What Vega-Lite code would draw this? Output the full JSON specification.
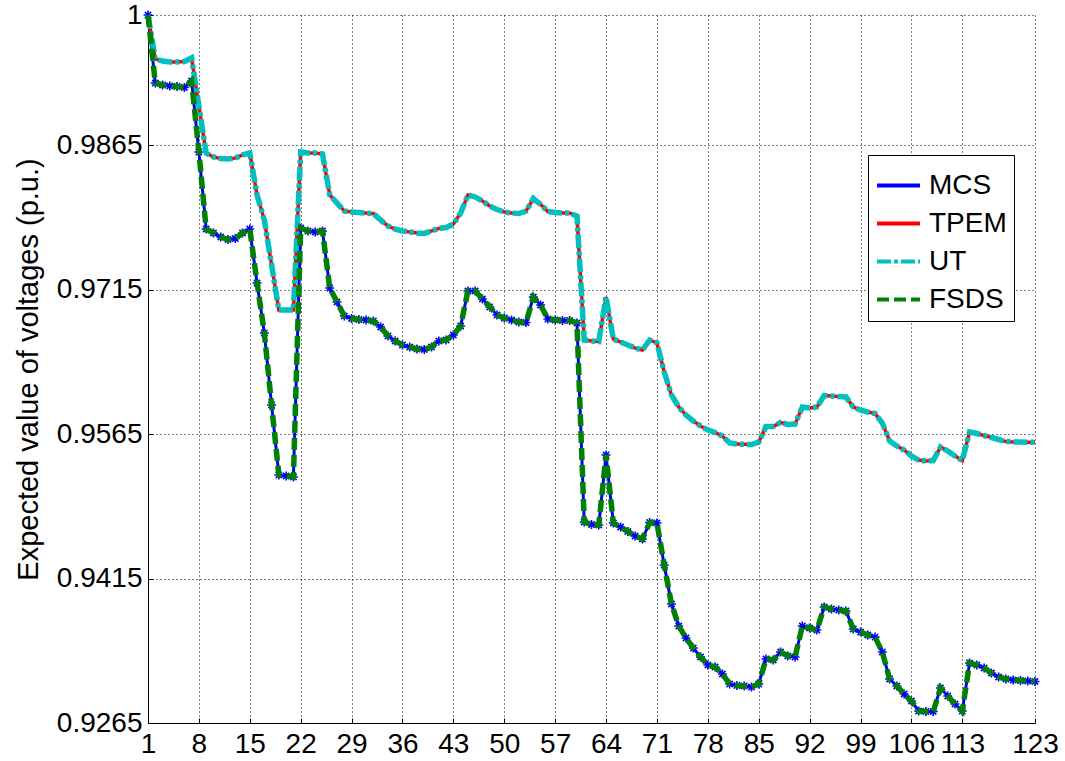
{
 "$schema": "https://vega.github.io/schema/vega-lite/v6.json",
 "width": 887,
 "height": 708,
 "autosize": {"type": "none"},
 "padding": {"left": 148, "top": 15, "right": 30, "bottom": 38},
 "background": "white",
 "config": {
  "view": {"stroke": null},
  "font": "Liberation Sans",
  "axis": {
   "domainColor": "#000000", "domainWidth": 1,
   "gridColor": "#000000", "gridDash": [1, 3], "gridOpacity": 1, "gridWidth": 1,
   "tickColor": "#000000", "tickSize": -5, "tickWidth": 1,
   "labelFont": "Liberation Sans", "labelFontSize": 28, "labelColor": "#000000",
   "titleFont": "Liberation Sans", "titleFontSize": 29, "titleFontWeight": "normal", "titleColor": "#000000"
  },
  "legend": {
   "orient": "none", "legendX": 720, "legendY": 140,
   "symbolType": "stroke", "symbolSize": 1849, "symbolStrokeWidth": 4,
   "labelFont": "Liberation Sans", "labelFontSize": 28, "labelColor": "#000000", "labelOffset": 7,
   "strokeColor": "#000000", "fillColor": "#ffffff", "padding": 7, "rowPadding": -4
  }
 },
 "data": {"values": [
  {"bus":1,"mcs":1.0,"tpem":1.0,"ut":1.0,"fsds":1.0},
  {"bus":2,"mcs":0.99294,"tpem":0.99543,"ut":0.99543,"fsds":0.99294},
  {"bus":3,"mcs":0.99273,"tpem":0.99522,"ut":0.99522,"fsds":0.99273},
  {"bus":4,"mcs":0.99263,"tpem":0.99512,"ut":0.99512,"fsds":0.99263},
  {"bus":5,"mcs":0.99258,"tpem":0.99512,"ut":0.99512,"fsds":0.99258},
  {"bus":6,"mcs":0.99247,"tpem":0.99517,"ut":0.99517,"fsds":0.99247},
  {"bus":7,"mcs":0.99315,"tpem":0.99554,"ut":0.99554,"fsds":0.99315},
  {"bus":8,"mcs":0.98578,"tpem":0.99055,"ut":0.99055,"fsds":0.98578},
  {"bus":9,"mcs":0.97778,"tpem":0.98567,"ut":0.98567,"fsds":0.97778},
  {"bus":10,"mcs":0.97737,"tpem":0.98526,"ut":0.98526,"fsds":0.97737},
  {"bus":11,"mcs":0.97695,"tpem":0.9851,"ut":0.9851,"fsds":0.97695},
  {"bus":12,"mcs":0.97669,"tpem":0.98505,"ut":0.98505,"fsds":0.97669},
  {"bus":13,"mcs":0.9768,"tpem":0.98515,"ut":0.98515,"fsds":0.9768},
  {"bus":14,"mcs":0.97737,"tpem":0.98547,"ut":0.98547,"fsds":0.97737},
  {"bus":15,"mcs":0.97778,"tpem":0.98567,"ut":0.98567,"fsds":0.97778},
  {"bus":16,"mcs":0.97218,"tpem":0.98131,"ut":0.98131,"fsds":0.97218},
  {"bus":17,"mcs":0.96699,"tpem":0.97872,"ut":0.97872,"fsds":0.96699},
  {"bus":18,"mcs":0.95951,"tpem":0.97405,"ut":0.97405,"fsds":0.95951},
  {"bus":19,"mcs":0.95225,"tpem":0.96937,"ut":0.96937,"fsds":0.95225},
  {"bus":20,"mcs":0.95214,"tpem":0.96937,"ut":0.96937,"fsds":0.95214},
  {"bus":21,"mcs":0.95204,"tpem":0.96937,"ut":0.96937,"fsds":0.95204},
  {"bus":22,"mcs":0.97789,"tpem":0.98578,"ut":0.98578,"fsds":0.97789},
  {"bus":23,"mcs":0.97758,"tpem":0.98567,"ut":0.98567,"fsds":0.97758},
  {"bus":24,"mcs":0.97747,"tpem":0.98567,"ut":0.98567,"fsds":0.97747},
  {"bus":25,"mcs":0.97758,"tpem":0.98557,"ut":0.98557,"fsds":0.97758},
  {"bus":26,"mcs":0.97166,"tpem":0.98131,"ut":0.98131,"fsds":0.97166},
  {"bus":27,"mcs":0.97021,"tpem":0.98048,"ut":0.98048,"fsds":0.97021},
  {"bus":28,"mcs":0.96875,"tpem":0.97965,"ut":0.97965,"fsds":0.96875},
  {"bus":29,"mcs":0.96849,"tpem":0.97955,"ut":0.97955,"fsds":0.96849},
  {"bus":30,"mcs":0.96839,"tpem":0.9795,"ut":0.9795,"fsds":0.96839},
  {"bus":31,"mcs":0.96834,"tpem":0.97944,"ut":0.97944,"fsds":0.96834},
  {"bus":32,"mcs":0.96823,"tpem":0.97939,"ut":0.97939,"fsds":0.96823},
  {"bus":33,"mcs":0.96761,"tpem":0.97872,"ut":0.97872,"fsds":0.96761},
  {"bus":34,"mcs":0.96668,"tpem":0.97809,"ut":0.97809,"fsds":0.96668},
  {"bus":35,"mcs":0.96616,"tpem":0.97778,"ut":0.97778,"fsds":0.96616},
  {"bus":36,"mcs":0.96574,"tpem":0.97758,"ut":0.97758,"fsds":0.96574},
  {"bus":37,"mcs":0.96553,"tpem":0.97747,"ut":0.97747,"fsds":0.96553},
  {"bus":38,"mcs":0.96533,"tpem":0.97737,"ut":0.97737,"fsds":0.96533},
  {"bus":39,"mcs":0.96527,"tpem":0.97732,"ut":0.97732,"fsds":0.96527},
  {"bus":40,"mcs":0.96553,"tpem":0.97758,"ut":0.97758,"fsds":0.96553},
  {"bus":41,"mcs":0.96616,"tpem":0.97784,"ut":0.97784,"fsds":0.96616},
  {"bus":42,"mcs":0.96626,"tpem":0.97794,"ut":0.97794,"fsds":0.96626},
  {"bus":43,"mcs":0.96678,"tpem":0.9783,"ut":0.9783,"fsds":0.96678},
  {"bus":44,"mcs":0.96771,"tpem":0.97944,"ut":0.97944,"fsds":0.96771},
  {"bus":45,"mcs":0.97135,"tpem":0.98131,"ut":0.98131,"fsds":0.97135},
  {"bus":46,"mcs":0.97135,"tpem":0.98111,"ut":0.98111,"fsds":0.97135},
  {"bus":47,"mcs":0.97052,"tpem":0.98069,"ut":0.98069,"fsds":0.97052},
  {"bus":48,"mcs":0.96969,"tpem":0.98017,"ut":0.98017,"fsds":0.96969},
  {"bus":49,"mcs":0.96886,"tpem":0.97981,"ut":0.97981,"fsds":0.96886},
  {"bus":50,"mcs":0.96854,"tpem":0.97955,"ut":0.97955,"fsds":0.96854},
  {"bus":51,"mcs":0.96834,"tpem":0.97944,"ut":0.97944,"fsds":0.96834},
  {"bus":52,"mcs":0.96813,"tpem":0.97939,"ut":0.97939,"fsds":0.96813},
  {"bus":53,"mcs":0.96808,"tpem":0.97965,"ut":0.97965,"fsds":0.96808},
  {"bus":54,"mcs":0.97072,"tpem":0.98095,"ut":0.98095,"fsds":0.97072},
  {"bus":55,"mcs":0.96989,"tpem":0.98033,"ut":0.98033,"fsds":0.96989},
  {"bus":56,"mcs":0.96844,"tpem":0.9796,"ut":0.9796,"fsds":0.96844},
  {"bus":57,"mcs":0.96834,"tpem":0.9795,"ut":0.9795,"fsds":0.96834},
  {"bus":58,"mcs":0.96828,"tpem":0.97944,"ut":0.97944,"fsds":0.96828},
  {"bus":59,"mcs":0.96828,"tpem":0.97944,"ut":0.97944,"fsds":0.96828},
  {"bus":60,"mcs":0.96803,"tpem":0.97913,"ut":0.97913,"fsds":0.96803},
  {"bus":61,"mcs":0.94737,"tpem":0.96626,"ut":0.96626,"fsds":0.94737},
  {"bus":62,"mcs":0.94711,"tpem":0.96616,"ut":0.96616,"fsds":0.94711},
  {"bus":63,"mcs":0.94706,"tpem":0.9661,"ut":0.9661,"fsds":0.94706},
  {"bus":64,"mcs":0.95432,"tpem":0.97072,"ut":0.97072,"fsds":0.95432},
  {"bus":65,"mcs":0.94726,"tpem":0.96636,"ut":0.96636,"fsds":0.94726},
  {"bus":66,"mcs":0.94685,"tpem":0.96605,"ut":0.96605,"fsds":0.94685},
  {"bus":67,"mcs":0.94638,"tpem":0.96574,"ut":0.96574,"fsds":0.94638},
  {"bus":68,"mcs":0.94591,"tpem":0.96543,"ut":0.96543,"fsds":0.94591},
  {"bus":69,"mcs":0.9456,"tpem":0.96522,"ut":0.96522,"fsds":0.9456},
  {"bus":70,"mcs":0.94731,"tpem":0.96626,"ut":0.96626,"fsds":0.94731},
  {"bus":71,"mcs":0.94726,"tpem":0.96595,"ut":0.96595,"fsds":0.94726},
  {"bus":72,"mcs":0.9429,"tpem":0.96294,"ut":0.96294,"fsds":0.9429},
  {"bus":73,"mcs":0.93885,"tpem":0.96055,"ut":0.96055,"fsds":0.93885},
  {"bus":74,"mcs":0.93657,"tpem":0.9593,"ut":0.9593,"fsds":0.93657},
  {"bus":75,"mcs":0.93532,"tpem":0.95847,"ut":0.95847,"fsds":0.93532},
  {"bus":76,"mcs":0.93429,"tpem":0.95785,"ut":0.95785,"fsds":0.93429},
  {"bus":77,"mcs":0.93335,"tpem":0.95733,"ut":0.95733,"fsds":0.93335},
  {"bus":78,"mcs":0.93252,"tpem":0.95692,"ut":0.95692,"fsds":0.93252},
  {"bus":79,"mcs":0.93231,"tpem":0.95666,"ut":0.95666,"fsds":0.93231},
  {"bus":80,"mcs":0.93159,"tpem":0.95629,"ut":0.95629,"fsds":0.93159},
  {"bus":81,"mcs":0.93055,"tpem":0.95557,"ut":0.95557,"fsds":0.93055},
  {"bus":82,"mcs":0.93039,"tpem":0.95546,"ut":0.95546,"fsds":0.93039},
  {"bus":83,"mcs":0.93034,"tpem":0.95543,"ut":0.95543,"fsds":0.93034},
  {"bus":84,"mcs":0.93024,"tpem":0.95541,"ut":0.95541,"fsds":0.93024},
  {"bus":85,"mcs":0.93055,"tpem":0.95567,"ut":0.95567,"fsds":0.93055},
  {"bus":86,"mcs":0.93314,"tpem":0.95728,"ut":0.95728,"fsds":0.93314},
  {"bus":87,"mcs":0.93304,"tpem":0.95728,"ut":0.95728,"fsds":0.93304},
  {"bus":88,"mcs":0.93387,"tpem":0.9577,"ut":0.9577,"fsds":0.93387},
  {"bus":89,"mcs":0.93346,"tpem":0.95749,"ut":0.95749,"fsds":0.93346},
  {"bus":90,"mcs":0.93335,"tpem":0.95754,"ut":0.95754,"fsds":0.93335},
  {"bus":91,"mcs":0.93657,"tpem":0.9593,"ut":0.9593,"fsds":0.93657},
  {"bus":92,"mcs":0.93636,"tpem":0.9592,"ut":0.9592,"fsds":0.93636},
  {"bus":93,"mcs":0.93615,"tpem":0.9593,"ut":0.9593,"fsds":0.93615},
  {"bus":94,"mcs":0.93854,"tpem":0.9605,"ut":0.9605,"fsds":0.93854},
  {"bus":95,"mcs":0.93833,"tpem":0.96045,"ut":0.96045,"fsds":0.93833},
  {"bus":96,"mcs":0.93823,"tpem":0.96039,"ut":0.96039,"fsds":0.93823},
  {"bus":97,"mcs":0.93813,"tpem":0.96034,"ut":0.96034,"fsds":0.93813},
  {"bus":98,"mcs":0.93626,"tpem":0.9593,"ut":0.9593,"fsds":0.93626},
  {"bus":99,"mcs":0.93594,"tpem":0.95899,"ut":0.95899,"fsds":0.93594},
  {"bus":100,"mcs":0.93563,"tpem":0.95879,"ut":0.95879,"fsds":0.93563},
  {"bus":101,"mcs":0.93542,"tpem":0.95863,"ut":0.95863,"fsds":0.93542},
  {"bus":102,"mcs":0.93387,"tpem":0.95764,"ut":0.95764,"fsds":0.93387},
  {"bus":103,"mcs":0.93107,"tpem":0.95578,"ut":0.95578,"fsds":0.93107},
  {"bus":104,"mcs":0.93034,"tpem":0.95526,"ut":0.95526,"fsds":0.93034},
  {"bus":105,"mcs":0.92951,"tpem":0.95484,"ut":0.95484,"fsds":0.92951},
  {"bus":106,"mcs":0.92878,"tpem":0.95422,"ut":0.95422,"fsds":0.92878},
  {"bus":107,"mcs":0.92774,"tpem":0.9538,"ut":0.9538,"fsds":0.92774},
  {"bus":108,"mcs":0.92769,"tpem":0.9537,"ut":0.9537,"fsds":0.92769},
  {"bus":109,"mcs":0.92769,"tpem":0.95375,"ut":0.95375,"fsds":0.92769},
  {"bus":110,"mcs":0.93013,"tpem":0.95515,"ut":0.95515,"fsds":0.93013},
  {"bus":111,"mcs":0.9293,"tpem":0.95474,"ut":0.95474,"fsds":0.9293},
  {"bus":112,"mcs":0.92847,"tpem":0.95422,"ut":0.95422,"fsds":0.92847},
  {"bus":113,"mcs":0.92774,"tpem":0.95375,"ut":0.95375,"fsds":0.92774},
  {"bus":114,"mcs":0.93273,"tpem":0.95671,"ut":0.95671,"fsds":0.93273},
  {"bus":115,"mcs":0.93252,"tpem":0.95655,"ut":0.95655,"fsds":0.93252},
  {"bus":116,"mcs":0.93221,"tpem":0.95634,"ut":0.95634,"fsds":0.93221},
  {"bus":117,"mcs":0.93169,"tpem":0.95614,"ut":0.95614,"fsds":0.93169},
  {"bus":118,"mcs":0.93127,"tpem":0.95593,"ut":0.95593,"fsds":0.93127},
  {"bus":119,"mcs":0.93107,"tpem":0.95572,"ut":0.95572,"fsds":0.93107},
  {"bus":120,"mcs":0.93096,"tpem":0.95567,"ut":0.95567,"fsds":0.93096},
  {"bus":121,"mcs":0.93091,"tpem":0.95567,"ut":0.95567,"fsds":0.93091},
  {"bus":122,"mcs":0.93086,"tpem":0.95564,"ut":0.95564,"fsds":0.93086},
  {"bus":123,"mcs":0.93081,"tpem":0.95564,"ut":0.95564,"fsds":0.93081}
 ]},
 "encoding": {
  "x": {
   "field": "bus", "type": "quantitative",
   "scale": {"domain": [1, 123], "nice": false, "zero": false},
   "axis": {"title": null, "values": [1, 8, 15, 22, 29, 36, 43, 50, 57, 64, 71, 78, 85, 92, 99, 106, 113, 123], "format": "d", "labelPadding": 12, "labelFlush": false, "labelOverlap": false}
  }
 },
 "layer": [
  {
   "mark": {"type": "line", "strokeWidth": 3},
   "encoding": {
    "y": {"field": "mcs", "type": "quantitative",
     "scale": {"domain": [0.9265, 1], "nice": false, "zero": false},
     "axis": {"title": "Expected value of voltages (p.u.)", "values": [0.9265, 0.9415, 0.9565, 0.9715, 0.9865, 1], "format": ".4~f", "labelPadding": 11, "titlePadding": 13, "labelFlush": false, "labelOverlap": false}},
    "color": {"datum": "MCS", "title": null, "scale": {"domain": ["MCS", "TPEM", "UT", "FSDS"], "range": ["#0000FF", "#FF0000", "#00BFBF", "#008000"]}},
    "strokeDash": {"datum": "MCS", "title": null, "scale": {"domain": ["MCS", "TPEM", "UT", "FSDS"], "range": [[1, 0], [1, 0], [14, 3, 4, 3], [12, 5]]}}
   }
  },
  {
   "mark": {"type": "point", "shape": "M-1,0L1,0M0,-1L0,1M-0.7,-0.7L0.7,0.7M-0.7,0.7L0.7,-0.7", "filled": false, "stroke": "#0000FF", "strokeWidth": 1.6, "size": 80, "opacity": 1},
   "encoding": {
    "y": {"field": "mcs", "type": "quantitative",
     "axis": {"title": "Expected value of voltages (p.u.)", "values": [0.9265, 0.9415, 0.9565, 0.9715, 0.9865, 1], "format": ".4~f", "labelPadding": 11, "titlePadding": 13, "labelFlush": false, "labelOverlap": false}}
   }
  },
  {
   "mark": {"type": "line", "strokeWidth": 3.5},
   "encoding": {
    "y": {"field": "tpem", "type": "quantitative",
     "axis": {"title": "Expected value of voltages (p.u.)", "values": [0.9265, 0.9415, 0.9565, 0.9715, 0.9865, 1], "format": ".4~f", "labelPadding": 11, "titlePadding": 13, "labelFlush": false, "labelOverlap": false}},
    "color": {"datum": "TPEM", "title": null},
    "strokeDash": {"datum": "TPEM", "title": null}
   }
  },
  {
   "mark": {"type": "line", "strokeWidth": 5.5},
   "encoding": {
    "y": {"field": "ut", "type": "quantitative",
     "axis": {"title": "Expected value of voltages (p.u.)", "values": [0.9265, 0.9415, 0.9565, 0.9715, 0.9865, 1], "format": ".4~f", "labelPadding": 11, "titlePadding": 13, "labelFlush": false, "labelOverlap": false}},
    "color": {"datum": "UT", "title": null},
    "strokeDash": {"datum": "UT", "title": null}
   }
  },
  {
   "mark": {"type": "line", "strokeWidth": 5.5},
   "encoding": {
    "y": {"field": "fsds", "type": "quantitative",
     "axis": {"title": "Expected value of voltages (p.u.)", "values": [0.9265, 0.9415, 0.9565, 0.9715, 0.9865, 1], "format": ".4~f", "labelPadding": 11, "titlePadding": 13, "labelFlush": false, "labelOverlap": false}},
    "color": {"datum": "FSDS", "title": null},
    "strokeDash": {"datum": "FSDS", "title": null}
   }
  }
 ]
}
